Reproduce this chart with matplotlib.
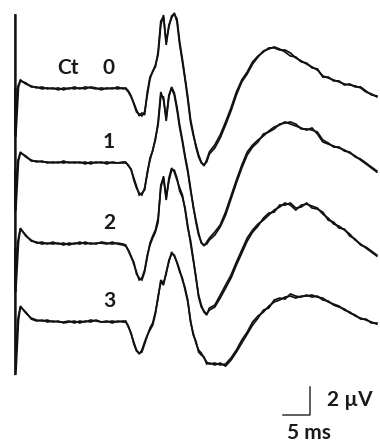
import numpy as np
import matplotlib
matplotlib.use("Agg")
import matplotlib.pyplot as plt

plt.rcParams['font.family'] = ['Lato', 'DejaVu Sans']

# ---- data (time in ms, amplitude in µV relative to each trace baseline) ----
time_early = list(range(1, 21))                                   # 1..20 ms
time_mid = [20.5 + 0.5 * i for i in range(32)]                    # 20.5..36 ms
time_late = list(range(37, 68))                                   # 37..67 ms
time_ms = np.array(time_early + time_mid + time_late, dtype=float)

row_labels = ["0", "1", "2", "3"]
ct_label = "Ct"

# row 0 (Ct 0): two overlaid sweeps
r0a = [0.50,0.21,0.07,-0.07,0,-0.14,-0.07,-0.21,-0.07,-0.14,0,-0.14,0,-0.07,-0.14,-0.07,-0.14,-0.07,-0.14,-0.07,
       -0.14,-0.36,-0.71,-1.14,-1.64,-2.07,-1.86,-2.00,-0.36,0.71,1.07,1.57,2.29,4.43,5.14,3.00,4.43,4.93,5.29,4.64,3.00,1.79,0.50,-0.93,-2.50,-3.43,-4.14,-4.86,-5.36,-5.64,-5.21,-4.64,
       -4.14,-3.43,-2.50,-1.50,-0.36,0.50,1.07,1.79,2.21,2.50,2.79,2.79,2.64,2.64,2.43,2.07,1.86,1.64,1.43,1.21,0.79,0.64,0.50,0.36,0.21,0.14,0.07,-0.07,-0.36,-0.50,-0.71]
r0b = [0.43,0.29,0,0,-0.14,-0.07,-0.14,-0.07,-0.21,-0.07,-0.14,-0.07,-0.14,0,-0.07,-0.21,-0.07,-0.14,0,-0.14,
       -0.07,-0.29,-0.64,-1.21,-1.79,-1.93,-2.07,-1.79,-0.57,0.57,1.14,1.43,2.50,4.71,5.00,3.21,4.29,5.07,5.21,4.86,3.21,2.00,0.64,-0.71,-2.29,-3.29,-4.29,-5.00,-5.43,-5.57,-5.36,-4.79,
       -4.36,-3.64,-2.71,-1.71,-0.57,0.36,0.93,1.64,2.14,2.57,2.71,2.86,2.71,2.50,2.21,2.14,1.79,1.71,1.36,1.29,0.71,0.71,0.43,0.43,0.14,0.21,0,0,-0.29,-0.57,-0.64]
# row 1
r1a = [0.64,0.29,0.07,-0.07,0,-0.14,-0.07,-0.14,0,-0.14,-0.07,-0.14,-0.07,-0.21,-0.07,-0.14,-0.07,-0.14,-0.14,-0.14,
       -0.14,-0.29,-0.64,-1.21,-1.79,-2.43,-2.29,-2.07,-0.79,0.07,0.79,1.50,2.79,4.93,4.36,3.07,4.71,5.21,4.71,3.64,2.36,1.36,0.21,-0.79,-2.07,-3.14,-4.36,-5.29,-5.79,-6.07,-5.79,-5.50,
       -5.07,-4.57,-3.64,-2.50,-1.36,-0.29,0.64,1.14,1.50,1.79,2.14,2.43,2.57,2.79,2.64,2.50,2.36,2.21,2.36,1.93,1.36,1.21,1.07,0.93,0.79,0.57,0.36,0.07,-0.21,-0.50,-0.79]
r1b = [0.57,0.36,0,0,-0.07,-0.07,-0.14,-0.07,-0.14,-0.07,-0.14,-0.07,-0.21,-0.07,-0.14,-0.07,-0.21,-0.07,-0.14,-0.07,
       -0.07,-0.36,-0.57,-1.36,-1.93,-2.29,-2.43,-1.93,-0.93,0.21,0.71,1.64,2.57,4.64,4.57,2.86,4.57,5.29,4.86,3.86,2.57,1.50,0.36,-0.64,-1.93,-3.29,-4.21,-5.14,-5.86,-6.00,-5.93,-5.64,
       -5.29,-4.71,-3.86,-2.71,-1.57,-0.50,0.43,1.00,1.36,1.93,2.07,2.29,2.64,2.71,2.79,2.64,2.29,2.29,2.21,2.07,1.50,1.29,1.00,1.00,0.71,0.64,0.29,0.14,-0.14,-0.43,-0.71]
# row 2
r2a = [1.00,0.43,0.14,-0.07,0,-0.14,0,-0.14,-0.07,-0.21,-0.07,-0.14,0,-0.14,-0.07,-0.07,-0.14,0,-0.14,-0.21,
       -0.29,-0.57,-1.00,-1.57,-2.14,-2.71,-2.57,-2.00,-0.93,-0.21,0.29,0.71,1.43,4.07,4.57,3.00,4.57,5.29,5.00,4.43,3.86,3.36,2.29,1.00,0.14,-1.14,-2.57,-3.79,-4.50,-5.00,-5.21,-4.71,
       -4.50,-3.79,-3.07,-2.36,-1.43,-0.57,0.29,0.86,1.29,1.57,1.93,2.29,2.50,2.79,2.64,2.29,2.64,2.71,2.57,2.43,2.00,1.71,1.29,1.14,0.86,0.57,0.14,-0.14,-0.43,-0.71,-1.00]
r2b = [0.93,0.50,0.07,0,-0.14,-0.07,-0.14,-0.07,-0.21,-0.07,-0.14,0,-0.14,-0.07,-0.14,0,-0.07,-0.14,-0.07,-0.14,
       -0.21,-0.64,-1.07,-1.43,-2.29,-2.57,-2.71,-2.14,-1.07,-0.07,0.43,0.86,1.71,3.86,4.71,3.21,4.36,5.14,5.14,4.57,3.64,3.21,2.43,1.14,-0.07,-1.29,-2.43,-3.93,-4.64,-4.93,-5.14,-4.86,
       -4.64,-4.00,-3.29,-2.57,-1.64,-0.79,0.07,0.71,1.14,1.71,2.07,2.14,2.64,2.64,2.79,2.43,2.50,2.79,2.43,2.36,2.14,1.57,1.43,1.00,0.93,0.43,0.21,-0.21,-0.36,-0.64,-0.93]
# row 3
r3a = [1.00,0.50,0.14,0,-0.07,0,-0.14,-0.07,-0.21,-0.14,-0.07,-0.21,-0.07,-0.14,0,-0.14,-0.07,-0.21,-0.07,-0.14,
       -0.14,-0.43,-1.00,-1.57,-2.14,-2.43,-2.14,-1.57,-1.07,-0.71,-0.36,0.43,1.71,2.71,2.50,3.43,4.14,4.86,4.57,4.14,3.57,2.86,2.29,1.43,-0.14,-0.93,-1.64,-2.14,-2.36,-2.71,-3.00,-3.14,
       -3.07,-3.21,-3.14,-2.71,-2.14,-1.43,-0.86,-0.14,0.29,0.57,1.00,1.29,1.43,1.64,1.71,1.57,1.71,1.71,1.79,1.64,1.57,1.29,1.14,1.00,0.71,0.57,0.29,0.14,0,-0.14,-0.29]
r3b = [0.93,0.57,0.07,-0.07,0,-0.14,-0.07,-0.14,-0.14,-0.07,-0.21,-0.07,-0.14,0,-0.07,-0.14,-0.14,-0.07,-0.14,-0.07,
       -0.07,-0.50,-0.93,-1.71,-2.21,-2.36,-2.29,-1.71,-1.14,-0.57,-0.21,0.57,1.57,2.86,2.64,3.29,4.29,4.71,4.64,4.07,3.43,3.00,2.14,1.29,0,-1.07,-1.50,-2.29,-2.50,-2.64,-3.14,-3.07,
       -3.21,-3.07,-3.29,-2.86,-2.29,-1.64,-1.00,-0.36,0.14,0.71,0.86,1.43,1.57,1.50,1.86,1.71,1.64,1.79,1.64,1.71,1.43,1.36,1.07,0.93,0.79,0.50,0.36,0.07,0.07,-0.21,-0.21]

traces_a = [r0a, r1a, r2a, r3a]
traces_b = [r0b, r1b, r2b, r3b]

# stimulus artifact extent (µV, relative to baseline)
artifact_hi = [5.14, 5.14, 5.14, 5.14]
artifact_lo = [-3.57, -3.57, -3.57, -3.93]

scale_ms = 5
scale_uv = 2

# ---- layout ----
px_ms = 5.4      # pixels per ms
px_uv = 14.0     # pixels per µV
W, H = 380, 446
row_base = [-6.21, -11.5, -17.29, -22.86]
label_dy = 1.36

fig = plt.figure(figsize=(W / 100, H / 100), dpi=100)
ax = fig.add_axes([0, 0, 1, 1])
ax.set_xlim(-15 / px_ms, (W - 15) / px_ms)
ax.set_ylim(-H / px_uv, 0)
ax.axis('off')

col = '#111111'
for k in range(4):
    base = row_base[k]
    for j, tr in enumerate((traces_a[k], traces_b[k])):
        dt = 0.15 * j
        t = np.concatenate([[dt, dt, 0.5 + dt], time_ms])
        v = np.concatenate([[artifact_hi[k], artifact_lo[k], 0.0], np.array(tr)]) + base
        ax.plot(t, v, color=col, lw=1.25, solid_joinstyle='miter')

# labels
tkw = dict(fontsize=15, fontweight='bold', ha='center', va='center', color='#1a1a1a')
ax.text(9.8, row_base[0] + label_dy, ct_label, **tkw)
for k, lab in enumerate(row_labels):
    ax.text(17.4, row_base[k] + label_dy, lab, **tkw)

# scale bar
cx, cy = 54.63, -29.64
ax.plot([cx - scale_ms, cx, cx], [cy, cy, cy + scale_uv], color='#333', lw=1.1)
ax.text(cx + 3.2, cy + 1.1, f"{scale_uv} µV", fontsize=15, fontweight='bold', ha='left', va='center', color='#1a1a1a')
ax.text(cx - 0.2, cy - 1.32, f"{scale_ms} ms", fontsize=15, fontweight='bold', ha='center', va='center', color='#1a1a1a')

fig.savefig("out.png", dpi=100)
